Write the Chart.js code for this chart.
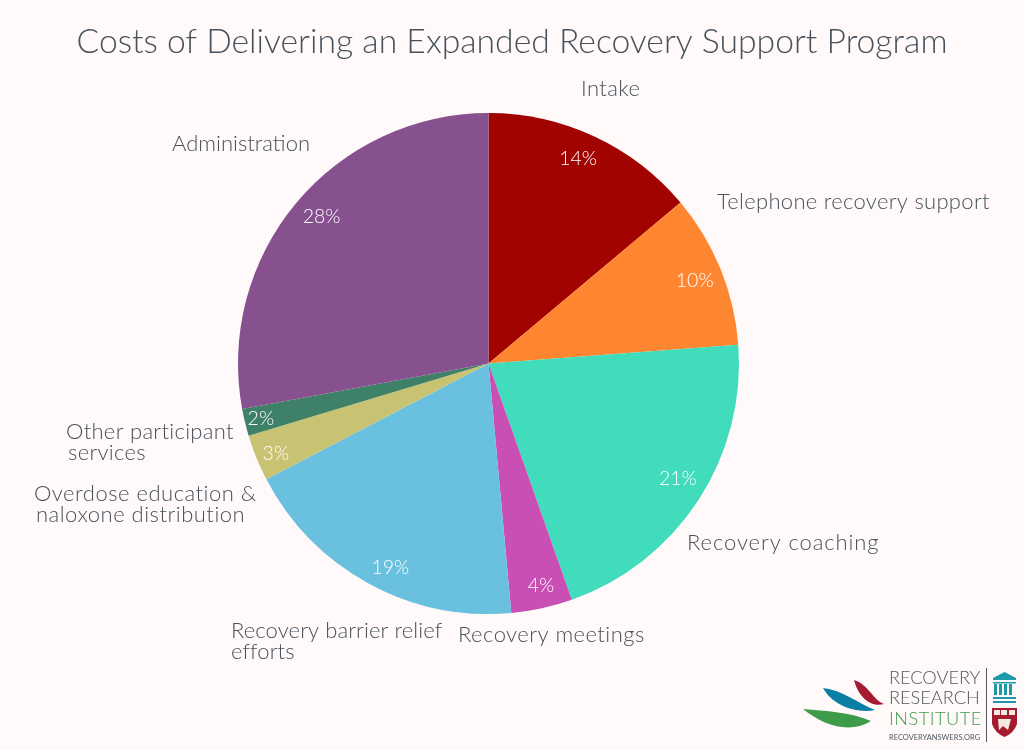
<!DOCTYPE html>
<html><head><meta charset="utf-8">
<style>html,body{margin:0;padding:0;background:#fff9f9;}#w{position:relative;width:1024px;height:750px;}canvas{display:block}</style>
<script src="https://cdn.jsdelivr.net/npm/chart.js@4"></script></head>
<body><div id="w"><canvas id="c" width="1024" height="750"></canvas></div>
<script>
const title = "Costs of Delivering an Expanded Recovery Support Program";
const categories = ["Intake","Telephone recovery support","Recovery coaching","Recovery meetings","Recovery barrier relief efforts","Overdose education & naloxone distribution","Other participant services","Administration"];
const labelLines = [["Intake"],["Telephone recovery support"],["Recovery coaching"],["Recovery meetings"],["Recovery barrier relief","efforts"],["Overdose education &","naloxone distribution"],["Other participant","services"],["Administration"]];
const values = [13.9,9.9,20.8,3.95,18.8,3.0,1.75,27.9];
const pctLabels = ["14%","10%","21%","4%","19%","3%","2%","28%"];
const colors = ["#a10400","#ff8630","#40dcbc","#c94fb4","#69c0df","#c8c373","#3e8068","#875190"];
const labelPos = [[581,88.5],[717,201.5],[687,542.5],[458,634.5],[231,630.5],[34,493.5],[66,431.5],[172,143.5]];
const labelSpacing = [0.4,0.3,0.9,0.45,0.1,0.5,0.3,0.0];
const secondLineIndent = [0,0,0,0,0,2,2,0];
const pctRadius = [.893,.893,.893,.905,.893,.925,.935,.893];
const pctNudge = [[-5,-2],[-1,2],[2,-7],[4,1],[9,8],[2,3],[0,0],[5,-4]];
const LINE=21;
const FAM='Lato, sans-serif';
const INK='#47515b';
function logo(g){
  g.save();
  const leaf=(c,x0,y0,c1x,c1y,c2x,c2y,x1,y1,c3x,c3y,c4x,c4y)=>{
    g.fillStyle=c;g.beginPath();g.moveTo(x0,y0);
    g.bezierCurveTo(c1x,c1y,c2x,c2y,x1,y1);
    g.bezierCurveTo(c3x,c3y,c4x,c4y,x0,y0);g.fill();
  };
  leaf('#a51c30',854,680, 868,684,873,700,884,704, 870,708,858,696);
  leaf('#0a7fa5',823,688, 842,690,858,703,875,710, 856,714,832,705);
  leaf('#3d9b4a',803,709, 826,711,850,712,871,721, 850,734,824,726);
  g.textBaseline='middle';g.textAlign='left';
  g.fillStyle='#4f5860';g.font='300 18.2px '+FAM;
  g.fillText('RECOVERY',889,678);
  g.fillText('RESEARCH',889,698);
  g.fillStyle='#3d9b4a';g.font='300 18.2px '+FAM;g.letterSpacing='0.5px';
  g.fillText('INSTITUTE',889,719);g.letterSpacing='0px';
  g.fillStyle='#4f5860';g.font='400 7.5px '+FAM;
  g.fillText('RECOVERYANSWERS.ORG',889,738);
  g.fillStyle='#4f5860';g.fillRect(986,668,1,74);
  g.fillStyle='#1c9aa8';
  g.beginPath();g.moveTo(1004.5,672);g.lineTo(1016,678);g.lineTo(1016,680);g.lineTo(993,680);g.lineTo(993,678);g.closePath();g.fill();
  for(let x=994;x<=1013;x+=5)g.fillRect(x,684,3,11);
  g.fillRect(993,682,23,1.5);
  g.fillRect(993,697,23,2);g.fillRect(993,701,23,2);
  g.fillStyle='#a51c30';
  g.beginPath();g.moveTo(992,708);g.lineTo(1017,708);g.lineTo(1017,724);
  g.quadraticCurveTo(1014,733,1004.5,737);g.quadraticCurveTo(995,733,992,724);g.closePath();g.fill();
  g.fillStyle='#f3e9e4';
  [994,1001,1009].forEach(x=>g.fillRect(x,710,6,5));
  g.beginPath();g.moveTo(998,719);g.lineTo(1011,719);g.lineTo(1008,730);g.lineTo(1003,726);g.lineTo(999,730);g.closePath();g.fill();
  g.restore();
}
const labels = {id:'labels',afterDatasetsDraw(ch){
  const g=ch.ctx; const arcs=ch.getDatasetMeta(0).data;
  g.save(); g.textBaseline='middle';
  g.fillStyle=INK; g.font='300 33.7px '+FAM; g.textAlign='center';
  g.fillText(title,512,42);
  arcs.forEach((a,i)=>{
    const mid=(a.startAngle+a.endAngle)/2, r=a.outerRadius*pctRadius[i];
    g.fillStyle='#ffffff'; g.font='300 19.5px '+FAM; g.textAlign='center';
    g.fillText(pctLabels[i],a.x+Math.cos(mid)*r+pctNudge[i][0],a.y+Math.sin(mid)*r+pctNudge[i][1]);
    g.fillStyle=INK; g.font='300 22px '+FAM; g.textAlign='left'; g.letterSpacing=labelSpacing[i]+'px';
    labelLines[i].forEach((t,k)=>g.fillText(t,labelPos[i][0]+(k?secondLineIndent[i]:0),labelPos[i][1]+k*LINE));
    g.letterSpacing='0px';
  });
  g.restore();
  logo(g);
}};
new Chart(document.getElementById('c'),{
  type:'pie',
  data:{labels:categories,datasets:[{data:values,backgroundColor:colors,borderWidth:0}]},
  options:{responsive:false,animation:false,
    layout:{padding:{top:113,bottom:136,left:238,right:285}},
    plugins:{legend:{display:false},tooltip:{enabled:false},title:{display:false}}
  },
  plugins:[labels]
});
</script></body></html>
